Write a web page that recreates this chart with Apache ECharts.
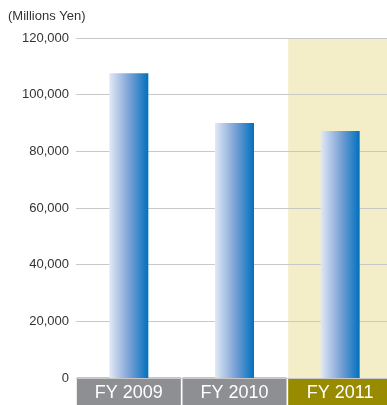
<!DOCTYPE html>
<html>
<head>
<meta charset="utf-8">
<script src="https://cdn.jsdelivr.net/npm/echarts@6/dist/echarts.min.js"></script>
<style>
    html, body { margin: 0; padding: 0; background: #fff; }
    #chart { width: 387px; height: 405px; }
</style>
</head>
<body>
<div id="chart"></div>
<script>
var years = ['FY 2009', 'FY 2010', 'FY 2011'];
var sales = [107600, 90000, 87200];
var highlight = [null, null, 120000];
var yTicks = [0, 20000, 40000, 60000, 80000, 100000, 120000];

var chart = echarts.init(document.getElementById('chart'));

var barColor = new echarts.graphic.LinearGradient(0, 0, 1, 0, [
    { offset: 0, color: '#e2e9f6' },
    { offset: 0.5, color: '#7ea3d6' },
    { offset: 1, color: '#0070bf' }
]);

var labelBox = function (bg) {
    return {
        backgroundColor: bg, color: '#fff', fontSize: 18,
        width: 104, height: 26, lineHeight: 26, align: 'center',
        padding: [3, 0, 0, 0]
    };
};

var option = {
    animation: false,
    textStyle: { fontFamily: 'Liberation Sans, Arial, sans-serif' },
    title: {
        text: '(Millions Yen)',
        left: 8,
        top: 10,
        padding: 0,
        textStyle: { fontSize: 13, fontWeight: 'normal', color: '#333' }
    },
    grid: {
        left: 76, top: 38, bottom: 27, width: 317,
        containLabel: false,
        outerBoundsMode: 'none'
    },
    xAxis: [
        {
            type: 'category',
            data: years,
            axisLine: { show: false },
            axisTick: { show: false },
            axisLabel: {
                margin: 1,
                interval: 0,
                formatter: function (val, idx) {
                    return idx === years.length - 1 ? '{hi|' + val + '}' : '{lo|' + val + '}';
                },
                rich: {
                    lo: labelBox('#8e8f93'),
                    hi: labelBox('#998b00')
                }
            }
        },
        {
            type: 'category',
            data: years,
            show: false
        }
    ],
    yAxis: {
        type: 'value',
        min: 0,
        max: 120000,
        interval: 20000,
        z: 1.5,
        axisLine: { show: false },
        axisTick: { show: false },
        axisLabel: {
            margin: 7,
            fontSize: 13,
            color: '#333',
            formatter: function (v) { return v.toLocaleString('en-US'); }
        },
        splitLine: { lineStyle: { color: '#c8c8c8', width: 1 } }
    },
    series: [
        {
            name: 'highlight',
            type: 'bar',
            xAxisIndex: 1,
            z: 1,
            data: highlight,
            barWidth: 104,
            itemStyle: { color: '#f3eec7' },
            silent: true
        },
        {
            name: 'sales',
            type: 'bar',
            z: 2,
            data: sales,
            barWidth: 39,
            itemStyle: { color: barColor }
        }
    ]
};

chart.setOption(option);
</script>
</body>
</html>
